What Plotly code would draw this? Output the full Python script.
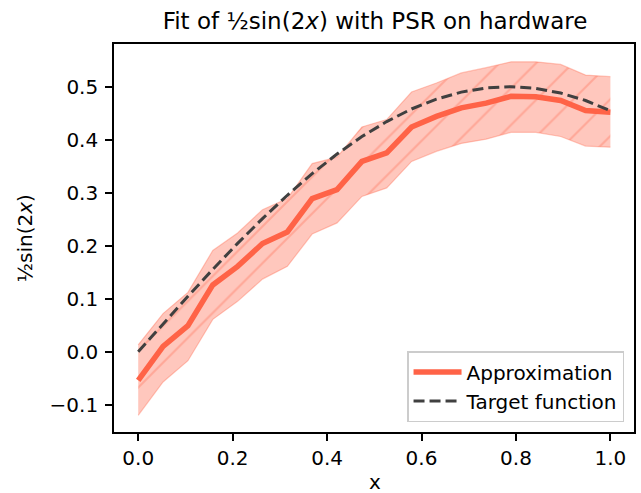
import plotly.graph_objects as go

# ---- data ----
x_vals = [0.0, 0.0526, 0.1053, 0.1579, 0.2105, 0.2632, 0.3158, 0.3684, 0.4211, 0.4737,
          0.5263, 0.5789, 0.6316, 0.6842, 0.7368, 0.7895, 0.8421, 0.8947, 0.9474, 1.0]
approx = [-0.054, 0.010, 0.049, 0.126, 0.161, 0.204, 0.226, 0.289, 0.306, 0.359,
          0.375, 0.424, 0.444, 0.460, 0.469, 0.482, 0.481, 0.474, 0.455, 0.452]
upper = [0.013, 0.072, 0.112, 0.191, 0.224, 0.268, 0.289, 0.355, 0.367, 0.424,
         0.438, 0.490, 0.507, 0.526, 0.536, 0.547, 0.547, 0.542, 0.522, 0.519]
lower = [-0.120, -0.057, -0.017, 0.061, 0.095, 0.137, 0.161, 0.222, 0.243, 0.293,
         0.309, 0.359, 0.378, 0.393, 0.401, 0.414, 0.414, 0.406, 0.388, 0.386]
target = [0.0, 0.0525, 0.1045, 0.1553, 0.2044, 0.2512, 0.2952, 0.3360, 0.3730, 0.4059,
          0.4342, 0.4580, 0.4765, 0.4898, 0.4977, 0.5000, 0.4968, 0.4881, 0.4740, 0.4546]

x_ticks = [0.0, 0.2, 0.4, 0.6, 0.8, 1.0]
x_ticktext = ["0.0", "0.2", "0.4", "0.6", "0.8", "1.0"]
y_ticks = [-0.1, 0.0, 0.1, 0.2, 0.3, 0.4, 0.5]
y_ticktext = ["\u22120.1", "0.0", "0.1", "0.2", "0.3", "0.4", "0.5"]

FONT = "DejaVu Sans"
TOMATO = "#ff6347"
W, H = 641, 493
L, R, T, B = 114, 5, 44, 61
PW, PH = W - L - R, H - T - B


def px_x(px):
    return (px - L) / PW


def px_y(py):
    return (H - B - py) / PH


fig = go.Figure()

# band lower edge
fig.add_trace(go.Scatter(
    x=x_vals, y=lower, mode="lines",
    line=dict(color="rgba(255,99,71,0.35)", width=1.2),
    showlegend=False, hoverinfo="skip"))
# band upper edge with hatched fill
fig.add_trace(go.Scatter(
    x=x_vals, y=upper, mode="lines", fill="tonexty",
    fillcolor="rgba(255,99,71,0.36)",
    fillpattern=dict(shape="/", fgcolor="rgba(255,99,71,0.65)", size=26,
                     solidity=0.08, fillmode="overlay"),
    line=dict(color="rgba(255,99,71,0.35)", width=1.2),
    showlegend=False, hoverinfo="skip"))

fig.add_trace(go.Scatter(
    x=x_vals, y=approx, mode="lines", name="Approximation",
    line=dict(color=TOMATO, width=5.5), legendgroup="a"))
fig.add_trace(go.Scatter(
    x=x_vals, y=target, mode="lines", name="Target function",
    line=dict(color="#404040", width=3, dash="11px,5px"), legendgroup="b"))

axis_common = dict(
    showline=True, linecolor="black", linewidth=1.6, mirror=True,
    ticks="outside", ticklen=7, tickwidth=1.6, tickcolor="black",
    showgrid=False, zeroline=False,
    tickfont=dict(family=FONT, size=20, color="black"),
)

fig.update_xaxes(range=[-0.0513, 1.05], tickvals=x_ticks, ticktext=x_ticktext, **axis_common)
fig.update_yaxes(range=[-0.1515, 0.5806], tickvals=y_ticks, ticktext=y_ticktext,
                 ticklabelposition="outside", ticklabelstandoff=3, **axis_common)

fig.add_annotation(text="x", x=px_x(376), y=px_y(481.5), xref="paper", yref="paper",
                   xanchor="center", yanchor="middle", showarrow=False,
                   font=dict(family=FONT, size=20, color="black"))
fig.add_annotation(text="½sin(2<i>x</i>)", x=px_x(25), y=px_y(238), xref="paper", yref="paper",
                   xanchor="center", yanchor="middle", showarrow=False, textangle=-90,
                   font=dict(family=FONT, size=20, color="black"))

fig.update_layout(
    width=W, height=H,
    margin=dict(l=L, r=R, t=T, b=B),
    plot_bgcolor="white", paper_bgcolor="white",
    title=dict(text="Fit of ½sin(2<i>x</i>) with PSR on hardware",
               font=dict(family=FONT, size=23, color="black"),
               x=375 / W, xref="container", xanchor="center",
               y=1 - 21 / H, yref="container", yanchor="middle"),
    legend=dict(x=px_x(626), y=px_y(422), xanchor="right", yanchor="bottom",
                bgcolor="rgba(255,255,255,0.8)", bordercolor="#cccccc", borderwidth=1.5,
                font=dict(family=FONT, size=20, color="black"),
                tracegroupgap=0, traceorder="grouped", itemwidth=48),
    showlegend=True,
)

fig.write_html("out.html", config={"displayModeBar": False},
               post_script="document.body.style.margin='0';document.body.style.overflow='hidden';")
